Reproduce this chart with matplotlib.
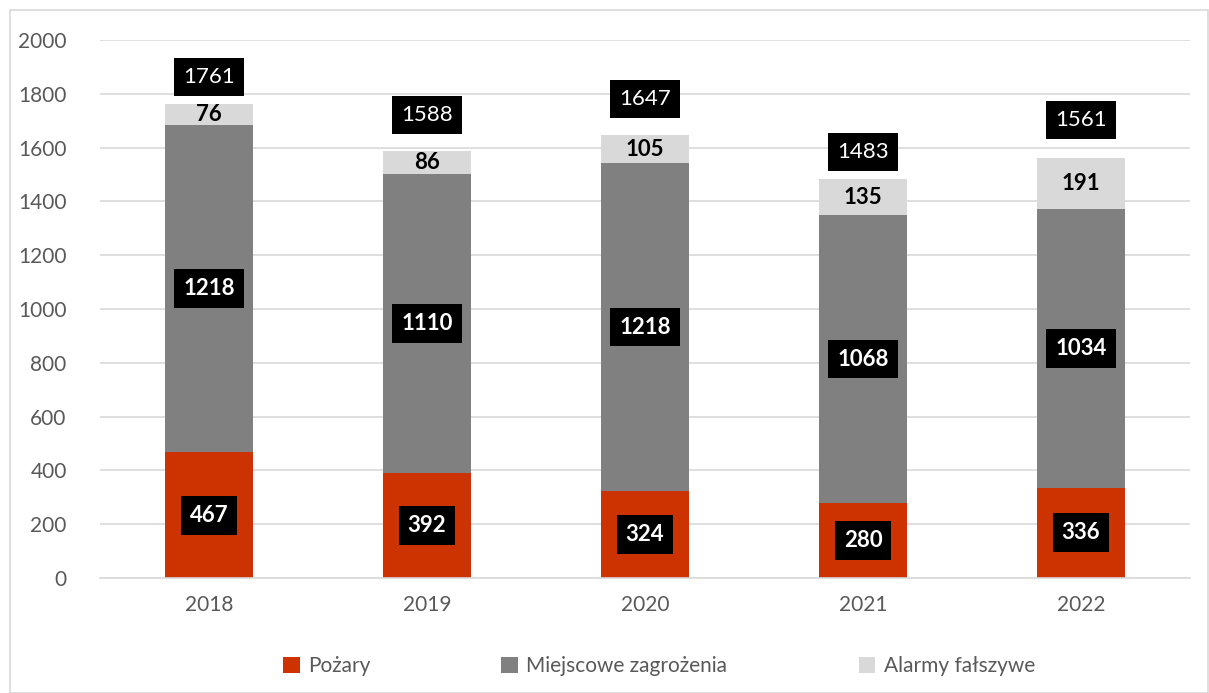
import matplotlib.pyplot as plt
import numpy as np
from matplotlib.patches import Rectangle

plt.rcParams['font.family'] = ['Lato', 'DejaVu Sans']

years = ['2018', '2019', '2020', '2021', '2022']
pozary = [467, 392, 324, 280, 336]
miejscowe = [1218, 1110, 1218, 1068, 1034]
alarmy = [76, 86, 105, 135, 191]
totals = [1761, 1588, 1647, 1483, 1561]
# how far above each bar the total label sits
total_offset = [102, 134, 134, 102, 143]

c_red = '#CC3300'
c_grey = '#808080'
c_light = '#D9D9D9'
c_text = '#595959'

fig = plt.figure(figsize=(12.09, 6.93), dpi=100)
fig.patches.append(Rectangle((10 / 1209, 0), 1 - 10 / 1209 - 0.001, 1 - 10 / 693,
                             transform=fig.transFigure, fill=False,
                             edgecolor='#D9D9D9', linewidth=1.2))
ax = fig.add_axes([100 / 1209, (693 - 578) / 693, 1090 / 1209, 538 / 693])

x = np.arange(len(years))
w = 0.4
b1 = ax.bar(x, pozary, w, color=c_red, label='Pożary', zorder=2)
b2 = ax.bar(x, miejscowe, w, bottom=pozary, color=c_grey,
            label='Miejscowe zagrożenia', zorder=2)
bottom3 = np.array(pozary) + np.array(miejscowe)
b3 = ax.bar(x, alarmy, w, bottom=bottom3, color=c_light,
            label='Alarmy fałszywe', zorder=2)

box = dict(boxstyle='square,pad=0.4', facecolor='black', edgecolor='none')
for i in range(len(years)):
    ax.text(x[i], pozary[i] / 2, str(pozary[i]), ha='center', va='center',
            color='white', fontsize=16, fontweight='bold', bbox=box, zorder=3)
    ax.text(x[i], pozary[i] + miejscowe[i] / 2, str(miejscowe[i]), ha='center',
            va='center', color='white', fontsize=16, fontweight='bold', bbox=box, zorder=3)
    ax.text(x[i], bottom3[i] + alarmy[i] / 2, str(alarmy[i]), ha='center',
            va='center', color='black', fontsize=16, fontweight='bold', zorder=3)
    ax.text(x[i], totals[i] + total_offset[i], str(totals[i]), ha='center',
            va='center', color='white', fontsize=16, bbox=box, zorder=3)

ax.set_xlim(-0.5, len(years) - 0.5)
ax.set_ylim(0, 2000)
ax.set_yticks(range(0, 2001, 200))
ax.set_xticks(x)
ax.set_xticklabels(years)
ax.yaxis.grid(True, color='#D9D9D9', linewidth=1.2, zorder=0)
ax.set_axisbelow(True)
for s in ['top', 'right', 'left']:
    ax.spines[s].set_visible(False)
ax.spines['bottom'].set_color('#D9D9D9')
ax.spines['bottom'].set_linewidth(1.2)
ax.tick_params(axis='both', length=0, labelsize=15, colors=c_text, pad=12)
ax.tick_params(axis='y', pad=24)

fig.legend(handles=[b1, b2, b3], loc='center', bbox_to_anchor=(0.545, (693 - 666) / 693),
           ncol=3, frameon=False, fontsize=15, labelcolor=c_text,
           handlelength=0.8, handleheight=0.8, columnspacing=6.3, handletextpad=0.4)

plt.savefig('out.png', dpi=100)
